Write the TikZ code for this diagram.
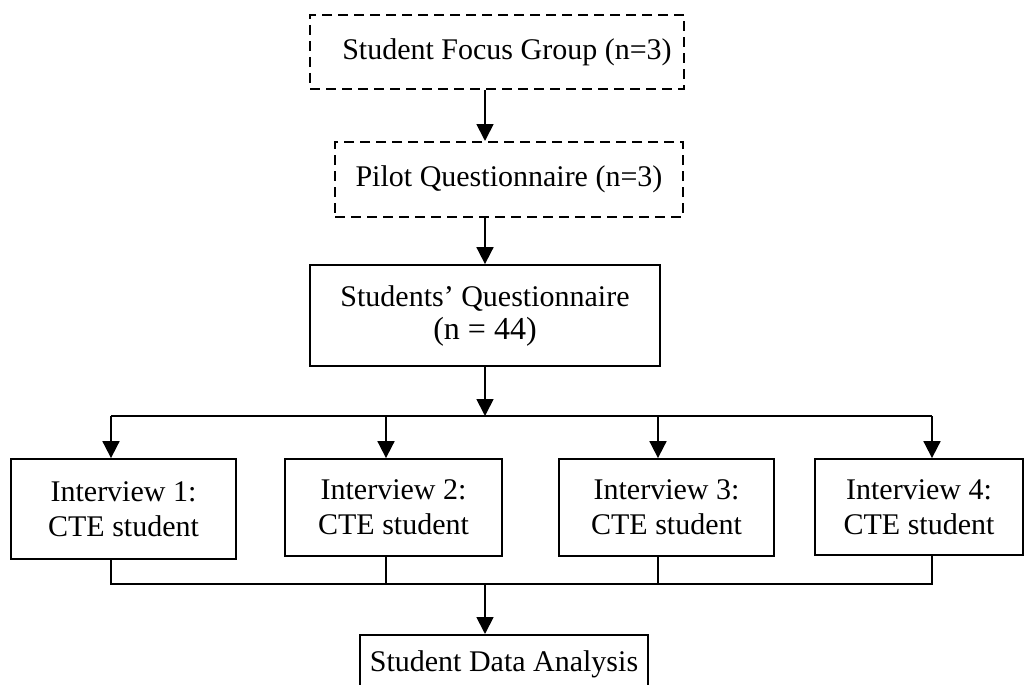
\documentclass[tikz,border=0pt]{standalone}
\usepackage{fontspec}
\setmainfont{Liberation Serif}
\usetikzlibrary{arrows.meta}
\begin{document}
\begin{tikzpicture}[x=1pt,y=1pt,
  box/.style={draw,line width=1.8pt,inner sep=0pt,align=center,font=\fontsize{30}{35}\selectfont},
  dbox/.style={box,line width=2pt,dash pattern=on 10pt off 6pt},
  conn/.style={line width=1.8pt},
  arr/.style={conn,-{Triangle[length=17pt,width=17pt]}}]
\useasboundingbox (0,0) rectangle (1026,-685);
\node[dbox,minimum width=374pt,minimum height=74pt] (fg) at (497,-52) {\hspace*{20pt}Student Focus Group (n=3)};
\node[dbox,minimum width=348pt,minimum height=75pt] (pq) at (509,-179.5) {Pilot Questionnaire (n=3)};
\node[box,minimum width=350pt,minimum height=101pt] (sq) at (485,-315.5) {Students' Questionnaire\\[-2pt]{\fontsize{32}{35}\selectfont(n = 44)}};
\node[box,minimum width=225pt,minimum height=100pt] (i1) at (123.5,-509) {Interview 1:\\CTE student};
\node[box,minimum width=217pt,minimum height=97pt] (i2) at (393.5,-507.5) {Interview 2:\\CTE student};
\node[box,minimum width=215pt,minimum height=97pt] (i3) at (666.5,-507.5) {Interview 3:\\CTE student};
\node[box,minimum width=208pt,minimum height=96pt] (i4) at (919,-507) {Interview 4:\\CTE student};
\node[box,minimum width=288pt,minimum height=58pt,anchor=north] (da) at (504,-634) {Student Data Analysis};
\coordinate (c) at (485,0);
\coordinate (top) at (485,-416);
\coordinate (bot) at (485,-584);
\draw[arr] (fg.south -| c) -- (pq.north -| c);
\draw[arr] (pq.south -| c) -- (sq.north -| c);
\draw[arr] (sq.south -| c) -- (top);
\draw[conn] (top -| 111,0) -- (top -| 932,0);
\draw[arr] (top -| 111,0) -- (i1.north -| 111,0);
\draw[arr] (top -| 386,0) -- (i2.north -| 386,0);
\draw[arr] (top -| 658,0) -- (i3.north -| 658,0);
\draw[arr] (top -| 932,0) -- (i4.north -| 932,0);
\draw[conn] (i1.south -| 111,0) -- (bot -| 111,0) -- (bot -| 932,0) -- (i4.south -| 932,0);
\draw[conn] (i2.south -| 386,0) -- (bot -| 386,0);
\draw[conn] (i3.south -| 658,0) -- (bot -| 658,0);
\draw[arr] (bot) -- (da.north -| c);
\end{tikzpicture}
\end{document}
